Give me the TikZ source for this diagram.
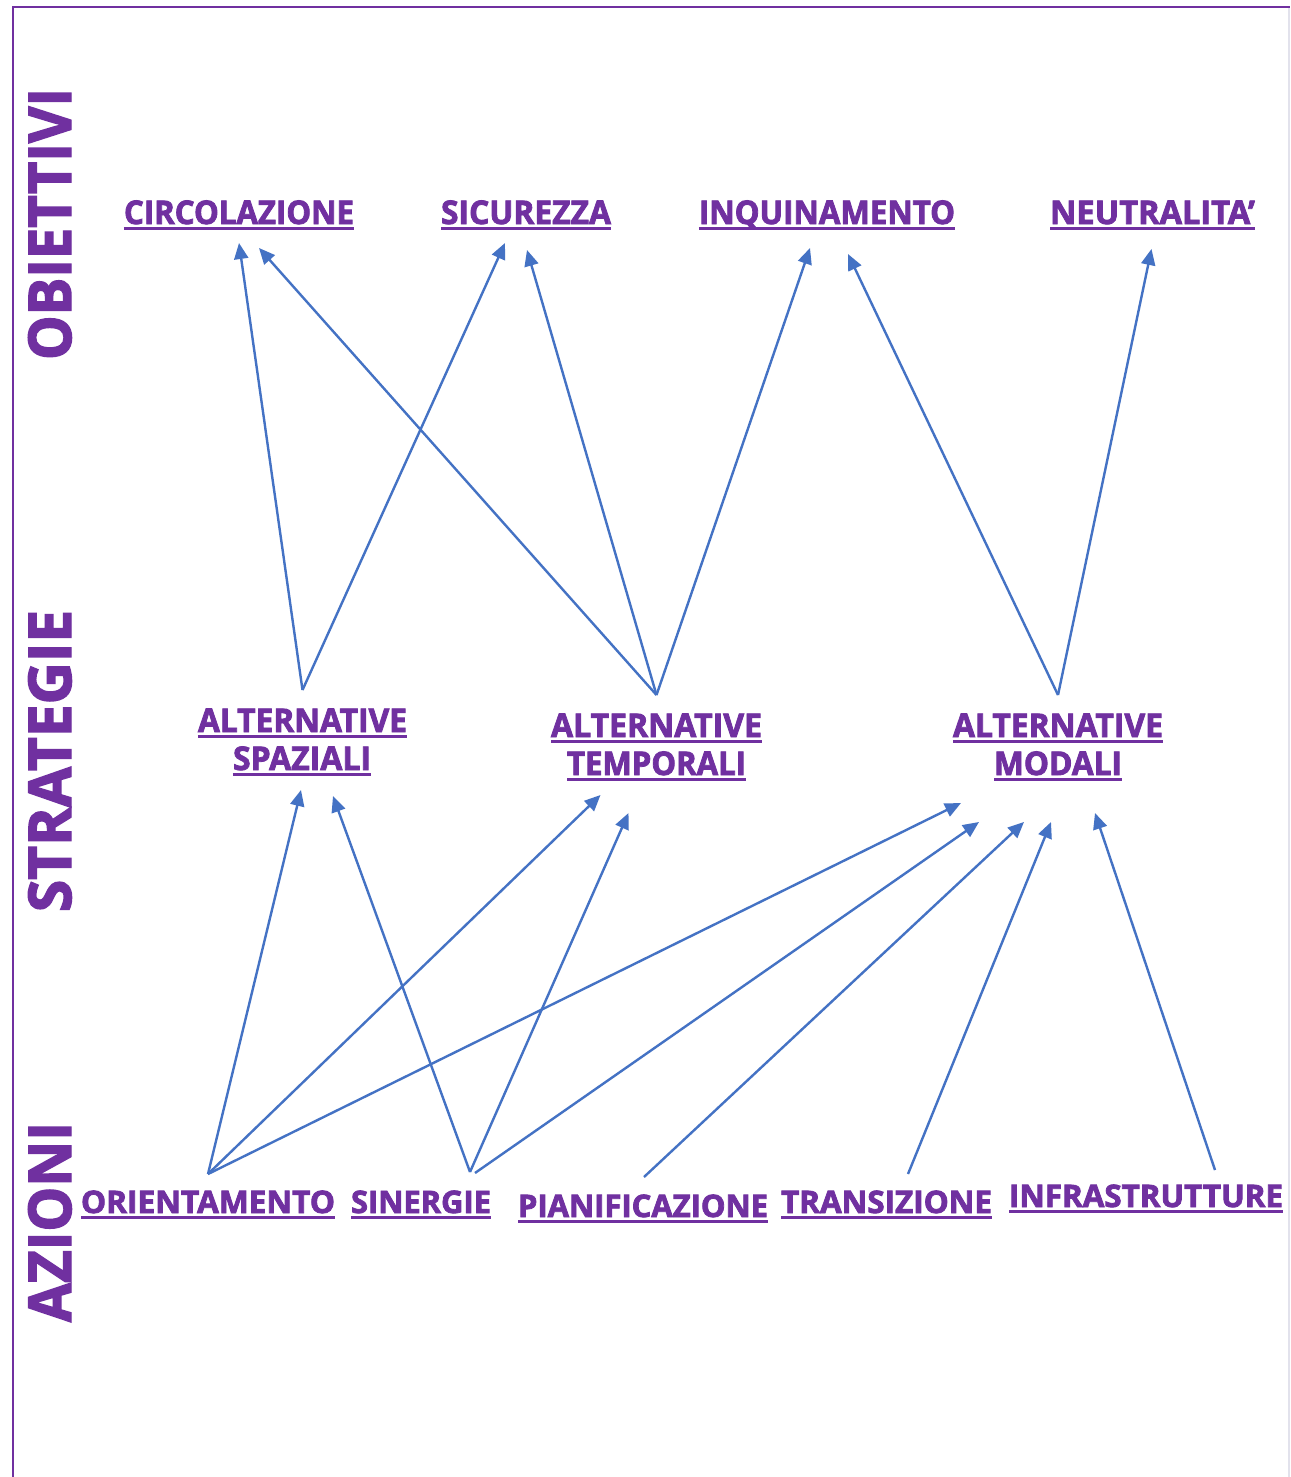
\documentclass[tikz,border=0pt]{standalone}
\usepackage{fontspec}
\setmainfont{Open Sans}[BoldFeatures={FakeBold=2.5}]
\usepackage{graphicx}
\usetikzlibrary{arrows.meta,calc}
\definecolor{vio}{HTML}{7030A0}
\definecolor{ablue}{HTML}{4472C4}
\definecolor{edge}{HTML}{E2E2EC}
\newcommand\ulab[2]{\setbox0=\hbox{\resizebox{#1}{\height}{#2}}\rlap{\rule[-3pt]{\wd0}{1.5pt}}\box0}
\tikzset{
  lab/.style={inner sep=0pt, anchor=base, text=vio, font=\fontsize{16.3}{19}\selectfont\bfseries},
  labs/.style={lab, font=\fontsize{15.5}{18}\selectfont\bfseries},
  side/.style={inner sep=0pt, anchor=base, rotate=90, text=vio, font=\fontsize{29.5}{34}\selectfont\bfseries},
  arr/.style={draw=ablue, line width=1.2pt, -{Triangle[length=8pt,width=7pt]}}
}
\begin{document}
\begin{tikzpicture}[x=0.5pt,y=-0.5pt]
\useasboundingbox (0,0) rectangle (1290,1477);
\fill[white] (0,0) rectangle (1290,1477);
% frame
\draw[edge, line width=1pt] (1289,7) -- (1289,1477);
\draw[vio, line width=1.2pt] (13,1477) -- (13,7) -- (1290,7);
% side titles
\node[side] (tobj) at (71,224) {\resizebox{136pt}{\height}{OBIETTIVI}};
\node[side] (tstr) at (71,761) {\resizebox{151pt}{\height}{STRATEGIE}};
\node[side] (tazi) at (71,1222) {\resizebox{100pt}{\height}{AZIONI}};
% objectives
\node[lab] (circ) at (239,224) {\ulab{115pt}{CIRCOLAZIONE}};
\node[lab] (sic) at (526,224) {\ulab{85pt}{SICUREZZA}};
\node[lab] (inq) at (827,224) {\ulab{128pt}{INQUINAMENTO}};
\node[lab] (neu) at (1152.5,224) {\ulab{102.5pt}{NEUTRALITA’}};
% strategies
\node[lab] (sp1) at (302.5,732) {\ulab{104.5pt}{ALTERNATIVE}};
\node[lab] (sp2) at (302,770) {\ulab{69pt}{SPAZIALI}};
\node[lab] (tp1) at (656.5,737) {\ulab{105.5pt}{ALTERNATIVE}};
\node[lab] (tp2) at (656.5,775) {\ulab{89.5pt}{TEMPORALI}};
\node[lab] (mp1) at (1058,737) {\ulab{105pt}{ALTERNATIVE}};
\node[lab] (mp2) at (1058,775) {\ulab{64pt}{MODALI}};
% actions
\node[labs] (ori) at (208,1213) {\ulab{127pt}{ORIENTAMENTO}};
\node[labs] (sin) at (421,1213) {\ulab{70pt}{SINERGIE}};
\node[labs] (pia) at (643,1217) {\ulab{125pt}{PIANIFICAZIONE}};
\node[labs] (tra) at (886.5,1213) {\ulab{105.5pt}{TRANSIZIONE}};
\node[labs] (inf) at (1146,1207) {\ulab{137pt}{INFRASTRUTTURE}};
% strategies -> objectives
\draw[arr] ($(sp1.base)+(0,-42)$) -- ($(circ.base)+(0,19)$);
\draw[arr] ($(sp1.base)+(0,-42)$) -- ($(sic.base)+(-21,19)$);
\draw[arr] ($(tp1.base)+(0,-42)$) -- ($(circ.base)+(20,24)$);
\draw[arr] ($(tp1.base)+(0,-42)$) -- ($(sic.base)+(1,26)$);
\draw[arr] ($(tp1.base)+(0,-42)$) -- ($(inq.base)+(-17,24)$);
\draw[arr] ($(mp1.base)+(0,-42)$) -- ($(inq.base)+(21,30)$);
\draw[arr] ($(mp1.base)+(0,-42)$) -- ($(neu.base)+(-1,25)$);
% actions -> strategies
\draw[arr] ($(ori.base)+(0,-39)$) -- ($(sp2.base)+(-1,20)$);
\draw[arr] ($(ori.base)+(0,-39)$) -- ($(tp2.base)+(-56,20)$);
\draw[arr] ($(ori.base)+(0,-39)$) -- ($(mp2.base)+(-97,28)$);
\draw[arr] ($(sin.base)+(49,-41)$) -- ($(sp2.base)+(31,26)$);
\draw[arr] ($(sin.base)+(49,-41)$) -- ($(tp2.base)+(-28,38)$);
\draw[arr] ($(sin.base)+(54,-40)$) -- ($(mp2.base)+(-79,47)$);
\draw[arr] ($(pia.base)+(1,-40)$) -- ($(mp2.base)+(-34,47)$);
\draw[arr] ($(tra.base)+(21.5,-39)$) -- ($(mp2.base)+(-7,47)$);
\draw[arr] ($(inf.base)+(69,-37)$) -- ($(mp2.base)+(37,38)$);
\end{tikzpicture}
\end{document}
